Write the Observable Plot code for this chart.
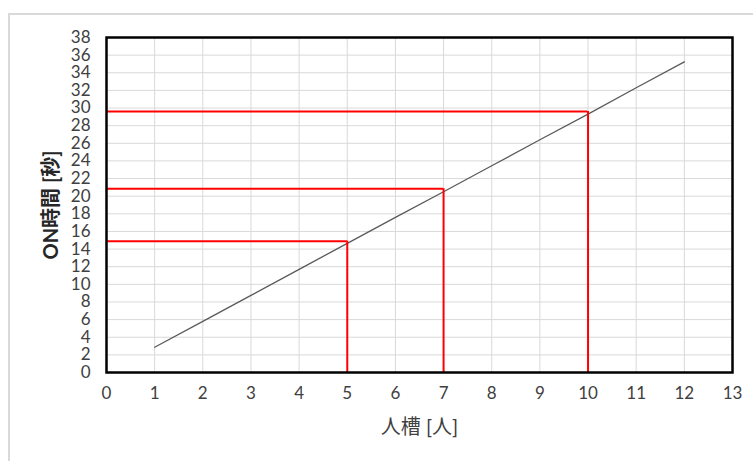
<!DOCTYPE html>
<html>
<head>
<meta charset="utf-8">
<script src="https://cdn.jsdelivr.net/npm/d3@7"></script>
<script src="https://cdn.jsdelivr.net/npm/@observablehq/plot@0.6"></script>
<style>
  html, body { margin: 0; padding: 0; background: #fff; }
  #wrap { position: relative; width: 753px; height: 461px; overflow: hidden; }
  #border { position: absolute; left: 8px; top: 13px; width: 760px; height: 460px;
            border-top: 2px solid #d9d9d9; border-left: 2px solid #d9d9d9; box-sizing: border-box; }
  #chart { position: absolute; left: 0; top: 0; }
</style>
</head>
<body>
<div id="wrap"><div id="border"></div><div id="chart"></div></div>
<script>
// Data
const persons = [1, 2, 3, 4, 5, 6, 7, 8, 9, 10, 11, 12];
const onTime  = [2.86, 5.8, 8.75, 11.7, 14.65, 17.6, 20.5, 23.45, 26.4, 29.3, 32.3, 35.24];
const markX   = [5, 7, 10];
const markY   = [14.9, 20.85, 29.6];
const xTicks  = [0,1,2,3,4,5,6,7,8,9,10,11,12,13];
const yTicks  = [0,2,4,6,8,10,12,14,16,18,20,22,24,26,28,30,32,34,36,38];
const xTitle  = "人槽 [人]";
const yTitle  = "ON時間 [秒]";

const lineData = persons.map((p, i) => ({x: p, y: onTime[i]}));
const marks = markX.map((x, i) => ({x, y: markY[i]}));

const font = "Lato, 'Noto Sans CJK JP', sans-serif";

const chart = Plot.plot({
  width: 753,
  height: 461,
  marginLeft: 106,
  marginRight: 21,
  marginTop: 37,
  marginBottom: 89,
  style: { fontFamily: font, fontSize: "17px", color: "#595959", background: "transparent" },
  x: { domain: [0, 13] },
  y: { domain: [0, 38] },
  marks: [
    Plot.gridX(xTicks, { stroke: "#d9d9d9", strokeOpacity: 1, strokeWidth: 1 }),
    Plot.gridY(yTicks, { stroke: "#d9d9d9", strokeOpacity: 1, strokeWidth: 1 }),
    Plot.axisX(xTicks, { tickSize: 0, tickPadding: 14, fontSize: 17, fill: "#404040",
      label: xTitle, labelAnchor: "center", labelOffset: 61, labelArrow: "none" }),
    Plot.axisY(yTicks, { tickSize: 0, tickPadding: 16, fontSize: 17, fill: "#404040",
      label: yTitle, labelAnchor: "center", labelOffset: 63, labelArrow: "none" }),
    Plot.line(lineData, { x: "x", y: "y", stroke: "#5a5a5a", strokeWidth: 1.3 }),
    Plot.ruleY(marks, { y: "y", x1: 0, x2: "x", stroke: "#ff0000", strokeWidth: 2 }),
    Plot.ruleX(marks, { x: "x", y1: 0, y2: "y", stroke: "#ff0000", strokeWidth: 2 }),
    Plot.frame({ stroke: "#000", strokeWidth: 2.5 })
  ]
});

// style axis titles
d3.select(chart).selectAll('[aria-label="y-axis label"] text')
  .attr("font-weight", "bold").attr("fill", "#262626").attr("font-size", 20);
d3.select(chart).selectAll('[aria-label="x-axis label"] text')
  .attr("fill", "#404040").attr("font-size", 20);

document.getElementById("chart").appendChild(chart);
</script>
</body>
</html>
